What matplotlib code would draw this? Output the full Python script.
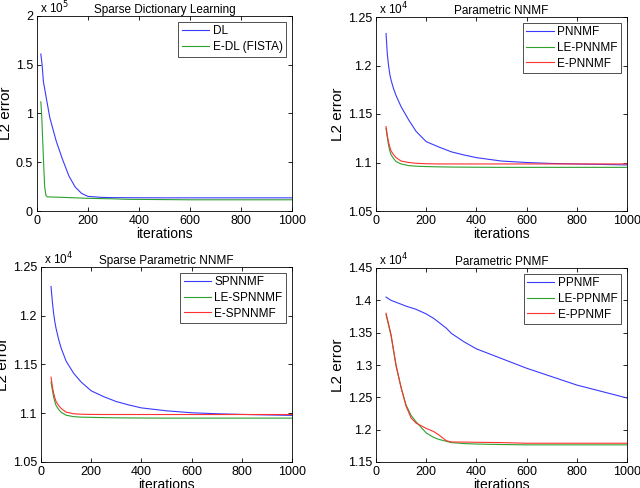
import numpy as np
import matplotlib.pyplot as plt
from matplotlib.ticker import FuncFormatter

plt.rcParams['font.family'] = ['Liberation Sans', 'DejaVu Sans']

# Sparse Dictionary Learning
it_dl = [15, 20, 25, 35, 50, 75, 100, 125, 150, 175, 200, 250, 300, 500, 1000]
dl = [1.61e5, 1.50e5, 1.33e5, 1.18e5, 0.96e5, 0.72e5, 0.53e5, 0.36e5, 0.245e5, 0.18e5, 0.15e5, 0.14e5, 0.137e5, 0.135e5, 0.135e5]
it_edl = [15, 18, 20, 25, 30, 35, 40, 100, 200, 300, 350, 600, 1000]
edl = [1.12e5, 1.0e5, 0.88e5, 0.55e5, 0.25e5, 0.16e5, 0.145e5, 0.14e5, 0.13e5, 0.125e5, 0.12e5, 0.115e5, 0.115e5]

# Parametric NNMF
it_p = [40, 45, 50, 55, 60, 70, 80, 100, 130, 160, 200, 250, 300, 350, 400, 500, 600, 700, 800, 1000]
pnnmf = [12330, 12120, 12000, 11910, 11850, 11760, 11690, 11575, 11440, 11320, 11215, 11160, 11110, 11078, 11050, 11015, 11000, 10990, 10985, 10975]
le_pnnmf = [11350, 11260, 11180, 11120, 11080, 11040, 11010, 10985, 10968, 10962, 10958, 10955, 10953, 10952, 10951, 10950, 10950, 10950, 10950, 10950]
e_pnnmf = [11370, 11280, 11210, 11160, 11120, 11080, 11050, 11015, 11000, 10992, 10987, 10985, 10985, 10985, 10985, 10985, 10985, 10985, 10985, 10985]

# Sparse Parametric NNMF
sp_it = [40, 45, 50, 55, 60, 70, 80, 100, 130, 160, 200, 250, 300, 350, 400, 500, 600, 700, 800, 1000]
spnnmf = [12300, 12150, 12030, 11940, 11870, 11760, 11670, 11535, 11410, 11320, 11230, 11170, 11120, 11085, 11055, 11025, 11005, 10995, 10988, 10978]
le_spnnmf = [11320, 11240, 11170, 11120, 11080, 11040, 11010, 10980, 10965, 10960, 10958, 10955, 10953, 10952, 10951, 10950, 10950, 10950, 10950, 10950]
e_spnnmf = [11370, 11280, 11210, 11160, 11120, 11080, 11050, 11012, 10995, 10990, 10988, 10987, 10987, 10987, 10987, 10987, 10987, 10987, 10987, 10987]

# Parametric PNMF
pp_it = [40, 60, 80, 100, 120, 140, 160, 200, 230, 250, 280, 300, 350, 400, 500, 600, 700, 800, 900, 1000]
ppnmf = [14050, 14000, 13970, 13940, 13910, 13885, 13860, 13790, 13720, 13660, 13570, 13490, 13360, 13250, 13100, 12950, 12820, 12690, 12590, 12490]
le_ppnmf = [13780, 13450, 12980, 12650, 12380, 12220, 12120, 11950, 11880, 11850, 11820, 11800, 11785, 11778, 11770, 11765, 11765, 11765, 11765, 11765]
e_ppnmf = [13800, 13470, 13000, 12650, 12360, 12180, 12100, 12020, 11970, 11920, 11830, 11810, 11808, 11805, 11800, 11790, 11790, 11790, 11790, 11790]

blue = '#3a3aff'
green = '#2ea02e'
red = '#ff3030'

fig = plt.figure(figsize=(6.4, 4.88), dpi=100)
W, H = 640.0, 488.0
boxes = [(37, 16, 292, 211), (376, 17, 627, 211), (41, 267, 292, 462), (376, 268, 627, 462)]
axs = [fig.add_axes([l / W, 1 - b / H, (r - l) / W, (b - t) / H]) for l, t, r, b in boxes]


def style(ax, title, ylim, yticks, scale, exp):
    ax.set_xlim(0, 1000)
    ax.set_ylim(*ylim)
    ax.set_xticks([0, 200, 400, 600, 800, 1000])
    ax.set_yticks(yticks)
    ax.yaxis.set_major_formatter(FuncFormatter(lambda v, _: f'{v / scale:g}'))
    ax.tick_params(direction='in', top=True, right=True, labelsize=9, length=3, width=0.6, pad=3)
    for s in ax.spines.values():
        s.set_linewidth(0.6)
    ax.set_title(title, fontsize=8.5, pad=2)
    ax.set_xlabel('iterations', fontsize=10, labelpad=0)
    ax.set_ylabel('L2 error', fontsize=11, labelpad=2)
    ax.text(0.0, 1.0, ' x 10$^{%d}$' % exp, transform=ax.transAxes, fontsize=8.5, va='bottom', ha='left')
    ax.legend(loc='upper right', fontsize=8.5, frameon=True, fancybox=False, edgecolor='black',
              handlelength=2.3, borderaxespad=0.5, labelspacing=0.3, borderpad=0.3,
              handletextpad=0.3).get_frame().set_linewidth(0.6)


lw = 0.8
ax = axs[0]
ax.plot(it_dl, dl, color=blue, lw=lw, label='DL')
ax.plot(it_edl, edl, color=green, lw=lw, label='E-DL (FISTA)')
style(ax, 'Sparse Dictionary Learning', (0, 2e5), [0, 0.5e5, 1e5, 1.5e5, 2e5], 1e5, 5)

ax = axs[1]
ax.plot(it_p, pnnmf, color=blue, lw=lw, label='PNNMF')
ax.plot(it_p, le_pnnmf, color=green, lw=lw, label='LE-PNNMF')
ax.plot(it_p, e_pnnmf, color=red, lw=lw, label='E-PNNMF')
style(ax, 'Parametric NNMF', (10500, 12500), [10500, 11000, 11500, 12000, 12500], 1e4, 4)

ax = axs[2]
ax.plot(sp_it, spnnmf, color=blue, lw=lw, label='SPNNMF')
ax.plot(sp_it, le_spnnmf, color=green, lw=lw, label='LE-SPNNMF')
ax.plot(sp_it, e_spnnmf, color=red, lw=lw, label='E-SPNNMF')
style(ax, 'Sparse Parametric NNMF', (10500, 12500), [10500, 11000, 11500, 12000, 12500], 1e4, 4)

ax = axs[3]
ax.plot(pp_it, ppnmf, color=blue, lw=lw, label='PPNMF')
ax.plot(pp_it, le_ppnmf, color=green, lw=lw, label='LE-PPNMF')
ax.plot(pp_it, e_ppnmf, color=red, lw=lw, label='E-PPNMF')
style(ax, 'Parametric PNMF', (11500, 14500), [11500, 12000, 12500, 13000, 13500, 14000, 14500], 1e4, 4)

plt.savefig('out.png', dpi=100)
